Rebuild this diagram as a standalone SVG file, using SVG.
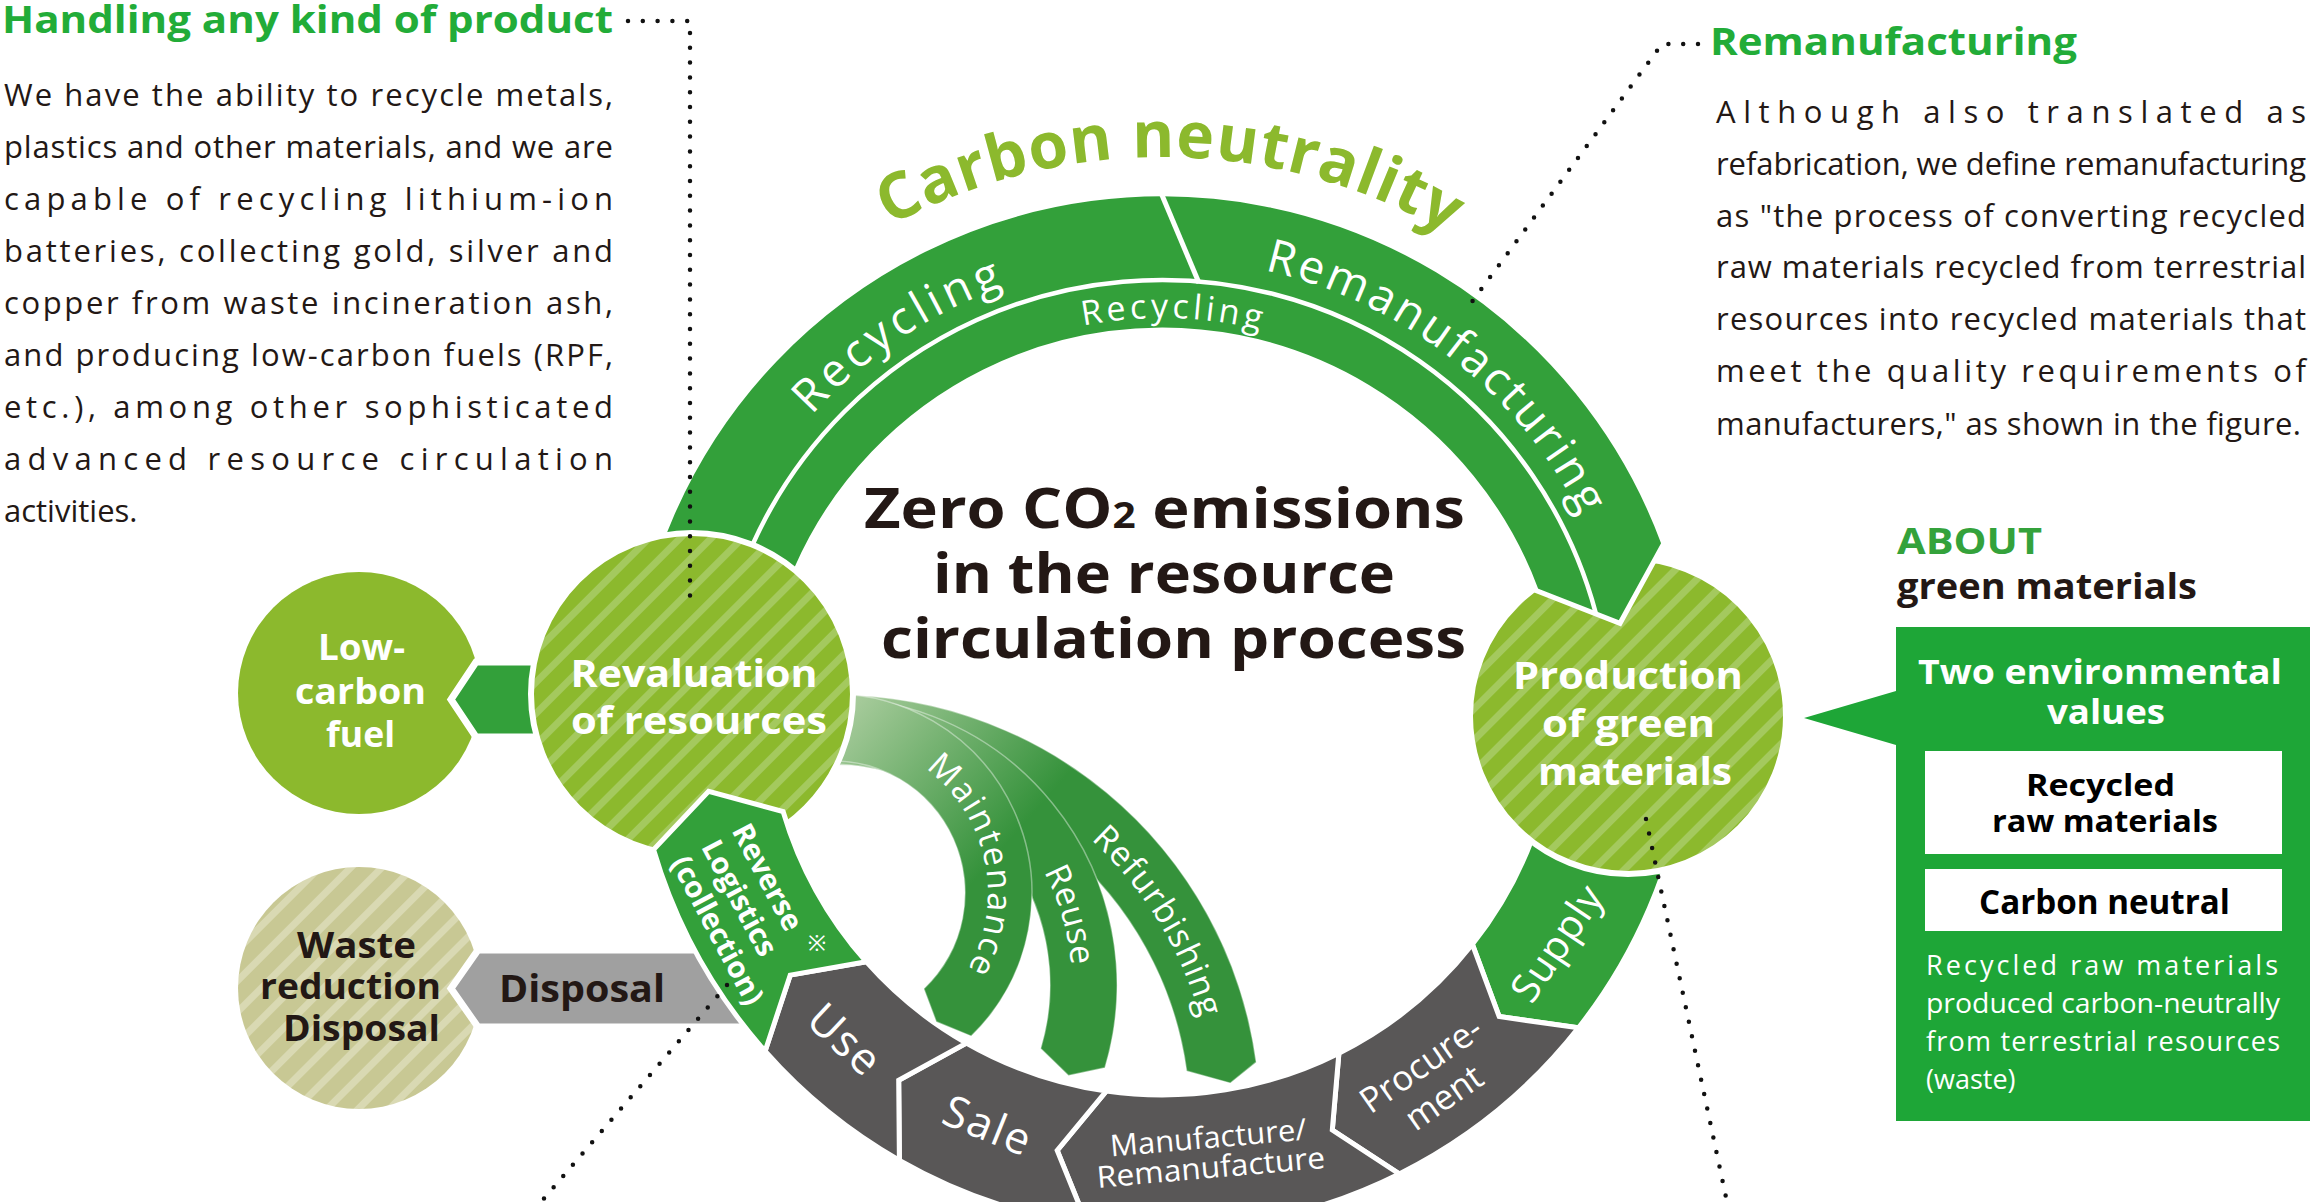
<svg xmlns="http://www.w3.org/2000/svg" width="2315" height="1202" viewBox="0 0 2315 1202">
<defs>
<style>
text{font-family:'Open Sans','Noto Sans','Liberation Sans',sans-serif}
.b{font-weight:700}
.w{fill:#fff}
.d{fill:#231815}
.gh{fill:#22ac38}
.para{font-size:31px;fill:#231815}
.desc{font-size:27px;fill:#fff}
.dot{fill:none;stroke:#111;stroke-width:4.5;stroke-linecap:round;stroke-dasharray:0 14.8}
.segG{fill:#33a03a;stroke:#fff;stroke-width:5}
.segK{fill:#595757;stroke:#fff;stroke-width:5}
.band{fill:url(#fan);stroke:#fff;stroke-width:1.5;stroke-opacity:.4}
.circ{stroke:#fff;stroke-width:6}
</style>
<pattern id="stG" width="22" height="22" patternUnits="userSpaceOnUse" patternTransform="rotate(45)">
<rect width="22" height="22" fill="#8cb92d"/><rect width="7" height="22" fill="#a4c95e"/>
</pattern>
<pattern id="stK" width="22" height="22" patternUnits="userSpaceOnUse" patternTransform="rotate(45)">
<rect width="22" height="22" fill="#c8c894"/><rect width="7" height="22" fill="#d9d9b3"/>
</pattern>
<linearGradient id="fan" gradientUnits="userSpaceOnUse" x1="850" y1="700" x2="1010" y2="840">
<stop offset="0" stop-color="#a9cc9d"/><stop offset="1" stop-color="#35923b"/>
</linearGradient>
<path id="pCarbon" d="M601.5,615 A572 572 0 0 1 1727.7,644.5"/>
<path id="pRecBig" d="M701.1,636.9 A470 470 0 0 1 1254.1,268.1"/>
<path id="pReman" d="M1104.7,262.5 A470 470 0 0 1 1628.5,671.7"/>
<path id="pRecSm" d="M880,430.1 A411 411 0 0 1 1460.5,446.5"/>
<path id="pMaint" d="M814.9,739.1 A155 155 0 0 1 877.5,1041.5"/>
<path id="pReuse" d="M802.8,743.4 A243 243 0 0 1 936.3,1203"/>
<path id="pRefurb" d="M826.1,741.1 A378 378 0 0 1 1168.2,1299.4"/>
</defs>
<rect width="2315" height="1202" fill="#fff"/>

<!-- side nodes -->
<g id="node-lowcarbon">
<circle cx="359" cy="693" r="121" fill="#8cb92d"/>
</g>
<g id="node-waste">
<circle cx="359" cy="988" r="121" fill="url(#stK)"/>
</g>

<!-- ring stages -->
<g id="node-supply">
<path class="segG" d="M1686.8,773.8 A530 530 0 0 1 1578.5,1027.8 L1499.2,1016.6 L1472.4,944.3 A395 395 0 0 0 1553.2,755 L1612.6,804 Z"/>
<text class="w" font-size="40" letter-spacing="1" text-anchor="middle" transform="translate(1557,943) rotate(-56)" y="14">Supply</text>
</g>
<g id="node-procurement">
<path class="segK" d="M1578.5,1027.8 A530 530 0 0 1 1399.3,1173.9 L1332.3,1130 L1338.9,1053.2 A395 395 0 0 0 1472.4,944.3 L1499.2,1016.6 Z"/>
<g transform="translate(1433,1082) rotate(-35)">
<text class="w" font-size="35" text-anchor="middle" y="-9">Procure-</text>
<text class="w" font-size="35" text-anchor="middle" y="31">ment</text>
</g>
</g>
<g id="node-manufacture">
<path class="segK" d="M1399.3,1173.9 A530 530 0 0 1 1087.3,1224.7 L1057.2,1150.5 L1106.3,1091.1 A395 395 0 0 0 1338.9,1053.2 L1332.3,1130 Z"/>
<g transform="translate(1209.5,1152) rotate(-5)">
<text class="w" font-size="30" text-anchor="middle" y="-4" textLength="197" lengthAdjust="spacingAndGlyphs">Manufacture/</text>
<text class="w" font-size="30" text-anchor="middle" y="26" textLength="229" lengthAdjust="spacingAndGlyphs">Remanufacture</text>
</g>
</g>
<g id="node-sale">
<path class="segK" d="M1087.3,1224.7 A530 530 0 0 1 899.4,1160.4 L898.7,1080.2 L966.3,1043.1 A395 395 0 0 0 1106.3,1091.1 L1057.2,1150.5 Z"/>
<text class="w" font-size="44" letter-spacing="2" text-anchor="middle" transform="translate(988,1126) rotate(22)" y="15">Sale</text>
</g>
<g id="node-use">
<path class="segK" d="M899.4,1160.4 A530 530 0 0 1 765.1,1051.2 L790.2,975.1 L866.2,961.7 A395 395 0 0 0 966.3,1043.1 L898.7,1080.2 Z"/>
<text class="w" font-size="44" letter-spacing="2" text-anchor="middle" transform="translate(845,1040) rotate(43)" y="15">Use</text>
</g>

<g id="node-production">
<circle class="circ" cx="1628" cy="716" r="158" fill="url(#stG)"/>
<text class="b w" font-size="37" text-anchor="middle" x="1628" y="689" textLength="230" lengthAdjust="spacingAndGlyphs">Production</text>
<text class="b w" font-size="37" text-anchor="middle" x="1628.5" y="737" textLength="173" lengthAdjust="spacingAndGlyphs">of green</text>
<text class="b w" font-size="37" text-anchor="middle" x="1635" y="785" textLength="194" lengthAdjust="spacingAndGlyphs">materials</text>
</g>

<g id="connectors">
<!-- top arc: recycling / remanufacturing -->
<path d="M629,682.4 A535 535 0 0 1 1663.8,543.4 L1620,623.3 L1536.2,590.6 A399 399 0 0 0 764.5,694.2 Z" fill="#33a03a" stroke="#fff" stroke-width="5"/>
<path d="M714.7,689.9 A449 449 0 0 1 1595.7,612.8" fill="none" stroke="#fff" stroke-width="4.5"/>
<path d="M1159,188 L1199,283" stroke="#fff" stroke-width="5"/>
<text class="w" font-size="46" letter-spacing="4.4" text-anchor="middle"><textPath href="#pRecBig" startOffset="50%">Recycling</textPath></text>
<text class="w" font-size="46" letter-spacing="3.1" text-anchor="middle"><textPath href="#pReman" startOffset="50%">Remanufacturing</textPath></text>
<text class="w" font-size="34" letter-spacing="4" text-anchor="middle"><textPath href="#pRecSm" startOffset="50%">Recycling</textPath></text>
<!-- fan arrows -->
<path class="band" d="M813.8,695.6 A424 424 0 0 1 1256.2,1062.2 L1230.4,1083.1 L1186.7,1071 A354 354 0 0 0 817.5,765.5 Z"/>
<path class="band" d="M803.9,698.1 A288 288 0 0 1 1104.9,1067.8 L1068.5,1075.5 L1040.7,1048.5 A221 221 0 0 0 809.7,764.8 Z"/>
<path class="band" d="M815.7,694.8 A199 199 0 0 1 971.2,1036.1 L936.3,1021.7 L923.9,988.7 A132 132 0 0 0 821.5,761.5 Z"/>
<text class="w" font-size="34" letter-spacing="1.8" text-anchor="middle"><textPath href="#pMaint" startOffset="50%">Maintenance</textPath></text>
<text class="w" font-size="34" letter-spacing="0.5" text-anchor="middle"><textPath href="#pReuse" startOffset="50%">Reuse</textPath></text>
<text class="w" font-size="34" letter-spacing="1" text-anchor="middle"><textPath href="#pRefurb" startOffset="50%">Refurbishing</textPath></text>
<!-- side arrows -->
<polygon points="560,662 476,662 451,699.5 476,737 560,737" fill="#33a03a" stroke="#fff" stroke-width="7"/>
<polygon points="765,950 478,950 451,988.5 478,1027 765,1027" fill="#a0a0a0" stroke="#fff" stroke-width="7"/>
<text class="b d" font-size="38" text-anchor="middle" x="582" y="1002" textLength="166" lengthAdjust="spacingAndGlyphs">Disposal</text>
</g>

<g id="node-revaluation">
<circle class="circ" cx="692" cy="694" r="161" fill="url(#stG)"/>
<text class="b w" font-size="37" text-anchor="middle" x="694" y="687" textLength="247" lengthAdjust="spacingAndGlyphs">Revaluation</text>
<text class="b w" font-size="37" text-anchor="middle" x="699" y="734" textLength="256" lengthAdjust="spacingAndGlyphs">of resources</text>
</g>
<g id="node-reverse">
<path class="segG" d="M765.1,1051.2 A530 530 0 0 1 653.6,849.6 L708.6,791.4 L783.1,811.5 A395 395 0 0 0 866.2,961.7 L790.2,975.1 Z"/>
<g transform="translate(741,900) rotate(62)">
<text class="b w" font-size="29.5" x="-66" y="-24">Reverse</text>
<text class="b w" font-size="29.5" x="-66" y="10.5">Logistics</text>
<text class="b w" font-size="29.5" x="-66" y="45">(collection)</text>
</g>
<text class="w" font-size="22" text-anchor="middle" x="817" y="951">※</text>
</g>

<g id="labels-side">
<text class="b w" font-size="35" text-anchor="middle" x="361.5" y="660" textLength="87" lengthAdjust="spacingAndGlyphs">Low-</text>
<text class="b w" font-size="35" text-anchor="middle" x="360.5" y="704" textLength="131" lengthAdjust="spacingAndGlyphs">carbon</text>
<text class="b w" font-size="35" text-anchor="middle" x="360.5" y="747" textLength="69" lengthAdjust="spacingAndGlyphs">fuel</text>
<text class="b d" font-size="36" text-anchor="middle" x="356.5" y="958" textLength="119" lengthAdjust="spacingAndGlyphs">Waste</text>
<text class="b d" font-size="36" text-anchor="middle" x="350.5" y="999" textLength="181" lengthAdjust="spacingAndGlyphs">reduction</text>
<text class="b d" font-size="36" text-anchor="middle" x="361.5" y="1041" textLength="157" lengthAdjust="spacingAndGlyphs">Disposal</text>
</g>

<g id="title-carbon">
<text class="b" font-size="64" fill="#8cb92d" letter-spacing="1" text-anchor="middle"><textPath href="#pCarbon" startOffset="49.6%">Carbon neutrality</textPath></text>
</g>

<g id="title-center">
<text class="b d" font-size="56" text-anchor="middle" x="1164.5" y="528" textLength="601" lengthAdjust="spacingAndGlyphs">Zero CO<tspan font-size="36">2</tspan> emissions</text>
<text class="b d" font-size="56" text-anchor="middle" x="1164" y="593" textLength="462" lengthAdjust="spacingAndGlyphs">in the resource</text>
<text class="b d" font-size="56" text-anchor="middle" x="1173.5" y="658" textLength="585" lengthAdjust="spacingAndGlyphs">circulation process</text>
</g>

<g id="note-handling">
<text class="b gh" font-size="37" x="2" y="33" textLength="611" lengthAdjust="spacingAndGlyphs">Handling any kind of product</text>
<text class="para" x="4" y="106" textLength="609" lengthAdjust="spacing">We have the ability to recycle metals,</text>
<text class="para" x="4" y="158" textLength="609" lengthAdjust="spacing">plastics and other materials, and we are</text>
<text class="para" x="4" y="210" textLength="609" lengthAdjust="spacing">capable of recycling lithium-ion</text>
<text class="para" x="4" y="262" textLength="609" lengthAdjust="spacing">batteries, collecting gold, silver and</text>
<text class="para" x="4" y="314" textLength="609" lengthAdjust="spacing">copper from waste incineration ash,</text>
<text class="para" x="4" y="366" textLength="609" lengthAdjust="spacing">and producing low-carbon fuels (RPF,</text>
<text class="para" x="4" y="418" textLength="609" lengthAdjust="spacing">etc.), among other sophisticated</text>
<text class="para" x="4" y="470" textLength="609" lengthAdjust="spacing">advanced resource circulation</text>
<text class="para" x="4" y="522">activities.</text>
</g>

<g id="note-remanufacturing">
<text class="b gh" font-size="38" x="1710" y="55" textLength="367" lengthAdjust="spacingAndGlyphs">Remanufacturing</text>
<text class="para" x="1716" y="123" textLength="590" lengthAdjust="spacing">Although also translated as</text>
<text class="para" x="1716" y="175" textLength="590" lengthAdjust="spacing">refabrication, we define remanufacturing</text>
<text class="para" x="1716" y="227" textLength="590" lengthAdjust="spacing">as "the process of converting recycled</text>
<text class="para" x="1716" y="278" textLength="590" lengthAdjust="spacing">raw materials recycled from terrestrial</text>
<text class="para" x="1716" y="330" textLength="590" lengthAdjust="spacing">resources into recycled materials that</text>
<text class="para" x="1716" y="382" textLength="590" lengthAdjust="spacing">meet the quality requirements of</text>
<text class="para" x="1716" y="435" textLength="585" lengthAdjust="spacing">manufacturers," as shown in the figure.</text>
</g>

<g id="note-green-materials">
<text class="b" font-size="35" fill="#34a23b" x="1897" y="554" textLength="145" lengthAdjust="spacingAndGlyphs">ABOUT</text>
<text class="b d" font-size="36" x="1897" y="599" textLength="300" lengthAdjust="spacingAndGlyphs">green materials</text>
<path d="M1896,627 H2310 V1121 H1896 V745 L1804,718 L1896,691 Z" fill="#1ea637"/>
<text class="b w" font-size="34" text-anchor="middle" x="2100" y="684" textLength="364" lengthAdjust="spacingAndGlyphs">Two environmental</text>
<text class="b w" font-size="34" text-anchor="middle" x="2106" y="724" textLength="118" lengthAdjust="spacingAndGlyphs">values</text>
<rect x="1925" y="751" width="357" height="103" fill="#fff"/>
<text class="b" fill="#000" font-size="31" text-anchor="middle" x="2100.5" y="796" textLength="149" lengthAdjust="spacingAndGlyphs">Recycled</text>
<text class="b" fill="#000" font-size="31" text-anchor="middle" x="2105" y="832" textLength="226" lengthAdjust="spacingAndGlyphs">raw materials</text>
<rect x="1925" y="869" width="357" height="62" fill="#fff"/>
<text class="b" fill="#000" font-size="34" text-anchor="middle" x="2104.5" y="914" textLength="251" lengthAdjust="spacingAndGlyphs">Carbon neutral</text>
<text class="desc" x="1926" y="975" textLength="352" lengthAdjust="spacing">Recycled raw materials</text>
<text class="desc" x="1926" y="1013" textLength="354" lengthAdjust="spacingAndGlyphs">produced carbon-neutrally</text>
<text class="desc" x="1926" y="1051" textLength="354" lengthAdjust="spacing">from terrestrial resources</text>
<text class="desc" x="1926" y="1089">(waste)</text>
</g>

<g id="leaders">
<path class="dot" d="M628,21 H690 V606"/>
<path class="dot" d="M727,985 L541,1202"/>
<path class="dot" d="M1646,819 L1727,1202"/>
<path class="dot" d="M1698,44 L1662,44 L1471,303"/>
</g>
</svg>
